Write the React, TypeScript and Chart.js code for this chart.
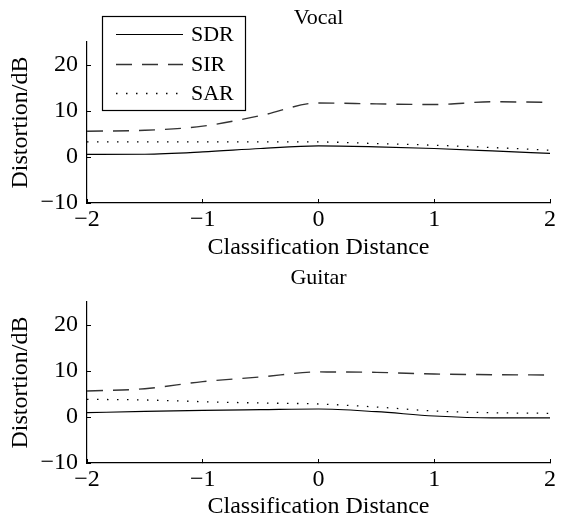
import React, { useEffect, useRef } from "react";
import { Chart, registerables } from "chart.js";

Chart.register(...registerables);

const xValues = [-2, -1.5, -1, -0.5, 0, 0.5, 1, 1.5, 2];
const xTicks = [-2, -1, 0, 1, 2];
const yTicks = [-10, 0, 10, 20];
const seriesNames = ["SDR", "SIR", "SAR"];

const vocalSDR = [0.55, 0.6, 1.1, 1.85, 2.4, 2.2, 1.85, 1.33, 0.77];
const vocalSIR = [5.6, 5.8, 6.7, 9.0, 11.75, 11.55, 11.4, 12.0, 11.9];
const vocalSAR = [3.27, 3.27, 3.27, 3.27, 3.27, 2.92, 2.56, 2.06, 1.48];

const guitarSDR = [0.93, 1.23, 1.45, 1.6, 1.74, 1.15, 0.22, -0.2, -0.2];
const guitarSIR = [5.65, 6.15, 7.7, 8.7, 9.8, 9.7, 9.35, 9.2, 9.13];
const guitarSAR = [3.84, 3.7, 3.33, 3.04, 2.83, 2.17, 1.3, 0.93, 0.8];

const FONT = "'Liberation Serif', 'Times New Roman', serif";
const FS = 24;
const TITLE_FS = 22;
const LEGEND_FS = 22;

const styles = [
  { color: "#000000", dash: [] as number[], width: 1.2 },
  { color: "#333333", dash: [16, 10], width: 1.4 },
  { color: "#000000", dash: [1.5, 8.5], width: 1.3 },
];

function makeDatasets(values: number[][]) {
  return values.map((vals, i) => ({
    label: seriesNames[i],
    data: xValues.map((x, j) => ({ x, y: vals[j] })),
    borderColor: styles[i].color,
    borderDash: styles[i].dash,
    borderWidth: styles[i].width,
    pointRadius: 0,
    fill: false,
    cubicInterpolationMode: "monotone" as const,
  }));
}

function makeOptions(title: string, showLegend: boolean, height: number) {
  const overlay = {
    id: "overlay" + title,
    afterDraw(chart: any) {
      const ctx = chart.ctx;
      const area = chart.chartArea;
      ctx.save();
      ctx.fillStyle = "#000";
      ctx.font = `${TITLE_FS}px ${FONT}`;
      ctx.textAlign = "center";
      ctx.textBaseline = "middle";
      ctx.fillText(title, (area.left + area.right) / 2, 18);
      if (showLegend) {
        const bx = 102, by = 16, bw = 143, bh = 94;
        ctx.fillStyle = "#fff";
        ctx.fillRect(bx, by, bw, bh);
        ctx.strokeStyle = "#000";
        ctx.lineWidth = 1.2;
        ctx.setLineDash([]);
        ctx.strokeRect(bx + 0.5, by + 0.5, bw, bh);
        const rows = [34, 64, 93];
        ctx.font = `${LEGEND_FS}px ${FONT}`;
        seriesNames.forEach((name, i) => {
          ctx.beginPath();
          ctx.strokeStyle = styles[i].color;
          ctx.lineWidth = styles[i].width;
          ctx.setLineDash(styles[i].dash);
          ctx.moveTo(116, rows[i] + 0.5);
          ctx.lineTo(183, rows[i] + 0.5);
          ctx.stroke();
          ctx.setLineDash([]);
          ctx.fillStyle = "#000";
          ctx.textAlign = "left";
          ctx.fillText(name, 191, rows[i] + 1);
        });
      }
      ctx.restore();
    },
  };
  return {
    plugin: overlay,
    options: {
      responsive: false,
      animation: false as const,
      devicePixelRatio: 1,
      layout: { padding: { left: 0, right: 17, top: 42, bottom: 0 } },
      plugins: { legend: { display: false }, tooltip: { enabled: false }, title: { display: false } },
      scales: {
        x: {
          type: "linear" as const,
          min: -2,
          max: 2,
          afterBuildTicks: (s: any) => { s.ticks = xTicks.map((v) => ({ value: v })); },
          afterFit: (s: any) => { s.height = height - 203; },
          grid: { drawOnChartArea: false, drawTicks: true, tickLength: -4, tickColor: "#000", tickWidth: 1 },
          border: { display: true, color: "#000", width: 1.2 },
          ticks: {
            color: "#000",
            font: { family: FONT, size: FS },
            padding: 6,
            maxRotation: 0,
            callback: (v: any) => (v < 0 ? "\u2212" + Math.abs(v) : String(v)),
          },
          title: {
            display: true,
            text: "Classification Distance",
            color: "#000",
            font: { family: FONT, size: FS },
            padding: { top: 0, bottom: -2 },
          },
        },
        y: {
          type: "linear" as const,
          min: -10,
          max: 25,
          afterBuildTicks: (s: any) => { s.ticks = yTicks.map((v) => ({ value: v })); },
          afterFit: (s: any) => { s.width = 87; },
          grid: { drawOnChartArea: false, drawTicks: true, tickLength: -4, tickColor: "#000", tickWidth: 1 },
          border: { display: true, color: "#000", width: 1.2 },
          ticks: {
            color: "#000",
            font: { family: FONT, size: FS },
            padding: 13,
            callback: (v: any) => (v < 0 ? "\u2212" + Math.abs(v) : String(v)),
          },
          title: {
            display: true,
            text: "Distortion/dB",
            color: "#000",
            font: { family: FONT, size: FS },
            padding: { top: 6, bottom: 0 },
          },
        },
      },
    },
  };
}

function Panel({ title, values, legend, height, top }: { title: string; values: number[][]; legend: boolean; height: number; top: number }) {
  const ref = useRef<HTMLCanvasElement | null>(null);
  useEffect(() => {
    if (!ref.current) return;
    const { plugin, options } = makeOptions(title, legend, height);
    const chart = new Chart(ref.current, {
      type: "line",
      data: { datasets: makeDatasets(values) as any },
      options: options as any,
      plugins: [plugin],
    });
    return () => chart.destroy();
  }, []);
  return (
    <canvas
      ref={ref}
      width={567}
      height={height}
      style={{ position: "absolute", left: 0, top, width: 567, height, display: "block" }}
    />
  );
}

export default function App() {
  return (
    <div style={{ position: "absolute", left: 0, top: 0, width: 567, height: 519, background: "#fff" }}>
      <Panel title="Vocal" values={[vocalSDR, vocalSIR, vocalSAR]} legend={true} height={260} top={0} />
      <Panel title="Guitar" values={[guitarSDR, guitarSIR, guitarSAR]} legend={false} height={259} top={260} />
    </div>
  );
}
